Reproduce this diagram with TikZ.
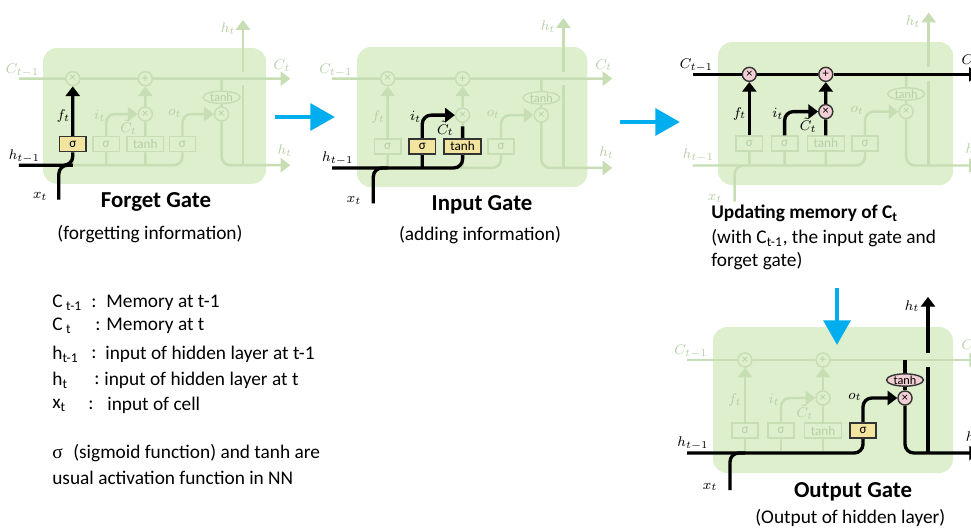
\documentclass[tikz,border=0pt]{standalone}
\usepackage[no-math]{fontspec}
\setmainfont{Carlito}
\newfontfamily\greekfont{Liberation Serif}
\usetikzlibrary{arrows.meta,shapes.geometric}

\definecolor{cellgreen}{RGB}{221,239,205}
\definecolor{fadeline}{RGB}{199,221,180}
\definecolor{fadetext}{RGB}{183,207,165}
\definecolor{gateyellow}{RGB}{243,228,160}
\definecolor{oppink}{RGB}{242,207,212}
\definecolor{flowblue}{RGB}{0,174,239}

\tikzset{
  fade/.style={draw=fadeline, line width=1.4pt},
  bold/.style={draw=black, line width=1.9pt},
  tip/.style={-{Triangle[length=5.5pt,width=8pt]}},
  gate/.style={draw=fadeline, fill=cellgreen, text=fadetext, line width=0.8pt,
    font=\fontsize{7.5}{8}\selectfont, minimum height=8.5pt, inner sep=0pt},
  op/.style={circle, draw=fadeline, fill=cellgreen, text=fadetext,
    line width=0.8pt, minimum size=8pt, inner sep=0pt,
    font=\fontsize{7}{7}\selectfont},
  squash/.style={ellipse, draw=fadeline, fill=cellgreen, text=fadetext,
    line width=0.8pt, minimum width=21pt, minimum height=7pt, inner sep=0pt,
    font=\fontsize{7}{7}\selectfont},
  lab/.style={text=fadetext, font=\footnotesize, inner sep=0pt},
  litgate/.style={draw=black!80, fill=gateyellow, text=black},
  litop/.style={draw=black!80, fill=oppink, text=black},
  litlab/.style={text=black},
  flow/.style={draw=flowblue, line width=2.8pt,
    -{Triangle[length=14pt,width=15pt]}},
  title/.style={font=\fontsize{13}{15}\selectfont\bfseries, inner sep=0pt},
  note/.style={font=\fontsize{11}{13}\selectfont, inner sep=0pt},
  legend/.style={anchor=west, font=\fontsize{11}{13}\selectfont, inner sep=0pt},
}

% One faded LSTM cell in its own frame; #1 prefixes the node names,
% "hook <name>" styles set in the scope light single parts up.
\newcommand{\fadedcell}[1]{%
  \fill[cellgreen, rounded corners=8pt] (0,0) rectangle (240,146);
  \coordinate (#1-cin) at (-26,33);
  \coordinate (#1-cout) at (266,33);
  \coordinate (#1-hin) at (-26,126);
  \coordinate (#1-hout) at (266,126);
  \coordinate (#1-xin) at (17,163);
  \coordinate (#1-hlow) at (215,40);
  \coordinate (#1-hhigh) at (215,26);
  \coordinate (#1-htop) at (215,-30);
  \node[gate, minimum width=15pt, hook sf/.try] (#1-sf) at (32,103.5) {σ};
  \node[gate, minimum width=15pt, hook si/.try] (#1-si) at (68,103.5) {σ};
  \node[gate, minimum width=21pt, hook tc/.try] (#1-tc) at (110,103.5) {tanh};
  \node[gate, minimum width=15pt, hook so/.try] (#1-so) at (150,103.5) {σ};
  \node[op, hook xf/.try] (#1-xf) at (32,33) {×};
  \node[op, hook pl/.try] (#1-pl) at (110,33) {+};
  \node[op, hook xi/.try] (#1-xi) at (110,71) {×};
  \node[op, hook xo/.try] (#1-xo) at (192,71) {×};
  \node[squash, hook th/.try] (#1-th) at (192,53) {tanh};
  % Cell state rail.
  \draw[fade] (#1-cin) -- (#1-xf) (#1-xf) -- (#1-pl);
  \draw[fade, tip] (#1-pl) -- (#1-cout);
  % Hidden state rail and the gates.
  \draw[fade, rounded corners=5pt] (#1-hin) -| (#1-so);
  \draw[fade, rounded corners=5pt] (#1-xin) |- (#1-sf |- #1-hin);
  \draw[fade] (#1-sf |- #1-hin) -- (#1-sf);
  \draw[fade] (#1-si |- #1-hin) -- (#1-si);
  \draw[fade] (#1-tc |- #1-hin) -- (#1-tc);
  \draw[fade, tip] (#1-sf) -- (#1-xf);
  \draw[fade, tip, rounded corners=5pt] (#1-si) |- (#1-xi);
  \draw[fade] (#1-tc) -- (#1-xi);
  \draw[fade, tip] (#1-xi) -- (#1-pl);
  \draw[fade, tip, rounded corners=5pt] (#1-so) |- (#1-xo);
  \draw[fade] (#1-xo |- #1-cin) -- (#1-th);
  \draw[fade] (#1-th) -- (#1-xo);
  \draw[fade, tip, rounded corners=5pt] (#1-xo) |- (#1-hout);
  \draw[fade] (#1-hlow |- #1-hin) -- (#1-hlow);
  \draw[fade, tip] (#1-hhigh) -- (#1-htop);
  % Labels.
  \node[lab, hook lcin/.try] (#1-lcin) at (-22,24) {$C_{t-1}$};
  \node[lab, hook lcout/.try] (#1-lcout) at (257,19) {$C_t$};
  \node[lab, hook lhin/.try] (#1-lhin) at (-20,116) {$h_{t-1}$};
  \node[lab, hook lhout/.try] (#1-lhout) at (260,110) {$h_t$};
  \node[lab, hook lhtop/.try] (#1-lhtop) at (199,-21) {$h_t$};
  \node[lab, hook lx/.try] (#1-lx) at (-3,160) {$x_t$};
  \node[lab, hook lf/.try] (#1-lf) at (22,73) {$f_t$};
  \node[lab, hook li/.try] (#1-li) at (61,73) {$i_t$};
  \node[lab, hook lct/.try] (#1-lct) at (92,85) {$\tilde{C}_t$};
  \node[lab, hook lo/.try] (#1-lo) at (142,70) {$o_t$};
}

\begin{document}
\begin{tikzpicture}[x=0.02cm,y=-0.02cm]
  \useasboundingbox (0,0) rectangle (971,528);

  % Forget gate.
  \begin{scope}[shift={(43,48)}, scale=0.93,
      hook sf/.style=litgate, hook lhin/.style=litlab,
      hook lx/.style=litlab, hook lf/.style=litlab]
    \fadedcell{fg}
    \draw[bold, rounded corners=5pt] (fg-hin) -| (fg-sf);
    \draw[bold, rounded corners=5pt] (fg-xin) |- (fg-sf |- fg-hin);
    \draw[bold, tip] (fg-sf) -- (fg-xf);
  \end{scope}
  \node[title] (fg-title) at (156,202) {Forget Gate};
  \node[note] (fg-note) at (150,234) {(forgetting information)};

  % Input gate.
  \begin{scope}[shift={(357,47)}, scale=0.96,
      hook si/.style=litgate, hook tc/.style=litgate,
      hook lhin/.style=litlab, hook lx/.style=litlab,
      hook li/.style=litlab, hook lct/.style=litlab]
    \fadedcell{in}
    \draw[bold, rounded corners=5pt] (in-hin) -| (in-tc);
    \draw[bold, rounded corners=5pt] (in-xin) |- (in-sf |- in-hin);
    \draw[bold] (in-si |- in-hin) -- (in-si);
    \draw[bold, tip, rounded corners=5pt] (in-si) |- (in-xi);
    \draw[bold, shorten >=2pt] (in-tc) -- (in-xi);
  \end{scope}
  \node[title] (in-title) at (482,205) {Input Gate};
  \node[note] (in-note) at (480,235) {(adding information)};

  % Updating the cell state.
  \begin{scope}[shift={(718,42)}, scale=0.98,
      hook xf/.style=litop, hook pl/.style=litop, hook xi/.style=litop,
      hook lcin/.style=litlab, hook lcout/.style=litlab,
      hook lf/.style=litlab, hook li/.style=litlab, hook lct/.style=litlab]
    \fadedcell{up}
    \draw[bold] (up-cin) -- (up-xf) (up-xf) -- (up-pl);
    \draw[bold, tip] (up-pl) -- (up-cout);
    \draw[bold, tip] (up-sf) -- (up-xf);
    \draw[bold, tip, rounded corners=5pt] (up-si) |- (up-xi);
    \draw[bold] (up-tc) -- (up-xi);
    \draw[bold, tip] (up-xi) -- (up-pl);
  \end{scope}
  \node[note, anchor=west, font=\fontsize{11}{13}\selectfont\bfseries]
    (up-title) at (711,213) {Updating memory of C\textsubscript{t}};
  \node[note, anchor=west] (up-note1) at (711,238)
    {(with C\textsubscript{t-1}, the input gate and};
  \node[note, anchor=west] (up-note2) at (711,261) {forget gate)};

  % Output gate.
  \begin{scope}[shift={(713,327)},
      hook so/.style=litgate, hook xo/.style=litop, hook th/.style=litop,
      hook lhin/.style=litlab, hook lhout/.style=litlab,
      hook lhtop/.style=litlab, hook lx/.style=litlab, hook lo/.style=litlab]
    \fadedcell{out}
    \draw[bold, rounded corners=5pt] (out-hin) -| (out-so);
    \draw[bold, rounded corners=5pt] (out-xin) |- (out-sf |- out-hin);
    \draw[bold, tip, rounded corners=5pt] (out-so) |- (out-xo);
    \draw[bold] (out-xo |- out-cin) -- (out-th);
    \draw[bold] (out-th) -- (out-xo);
    \draw[bold, tip, rounded corners=5pt] (out-xo) |- (out-hout);
    \draw[bold] (out-hlow |- out-hin) -- (out-hlow);
    \draw[bold, tip] (out-hhigh) -- (out-htop);
  \end{scope}
  \node[title] (out-title) at (853,492) {Output Gate};
  \node[note, anchor=west] (out-note) at (755,518) {(Output of hidden layer)};

  % Steps from one panel to the next.
  \coordinate (flow1-s) at (275,117);
  \coordinate (flow1-e) at (335,117);
  \coordinate (flow2-s) at (620,122);
  \coordinate (flow2-e) at (680,122);
  \coordinate (flow3-s) at (837,288);
  \coordinate (flow3-e) at (837,345);
  \draw[flow] (flow1-s) -- (flow1-e);
  \draw[flow] (flow2-s) -- (flow2-e);
  \draw[flow] (flow3-s) -- (flow3-e);

  % Key to the symbols.
  \node[legend] (key-cprev) at (52,303) {C\kern2pt\textsubscript{t-1}};
  \node[legend] (key-cprev-sep) at (91,303) {:};
  \node[legend] (key-cprev-text) at (106,303) {Memory at t-1};
  \node[legend] (key-c) at (52,326) {C\kern2pt\textsubscript{t}};
  \node[legend] (key-c-sep) at (95,326) {:};
  \node[legend] (key-c-text) at (106,326) {Memory at t};
  \node[legend] (key-hprev) at (52,354) {h\textsubscript{t-1}};
  \node[legend] (key-hprev-sep) at (91,354) {:};
  \node[legend] (key-hprev-text) at (105,354) {input of hidden layer at t-1};
  \node[legend] (key-h) at (52,380) {h\textsubscript{t}};
  \node[legend] (key-h-sep) at (94,380) {:};
  \node[legend] (key-h-text) at (104,380) {input of hidden layer at t};
  \node[legend] (key-x) at (52,405) {x\textsubscript{t}};
  \node[legend] (key-x-sep) at (88,405) {:};
  \node[legend] (key-x-text) at (107,405) {input of cell};
  \node[legend] (key-sigma) at (52,453)
    {{\greekfont σ}\hspace{6pt}(sigmoid function) and tanh are};
  \node[legend] (key-usual) at (52,478) {usual activation function in NN};
\end{tikzpicture}
\end{document}
